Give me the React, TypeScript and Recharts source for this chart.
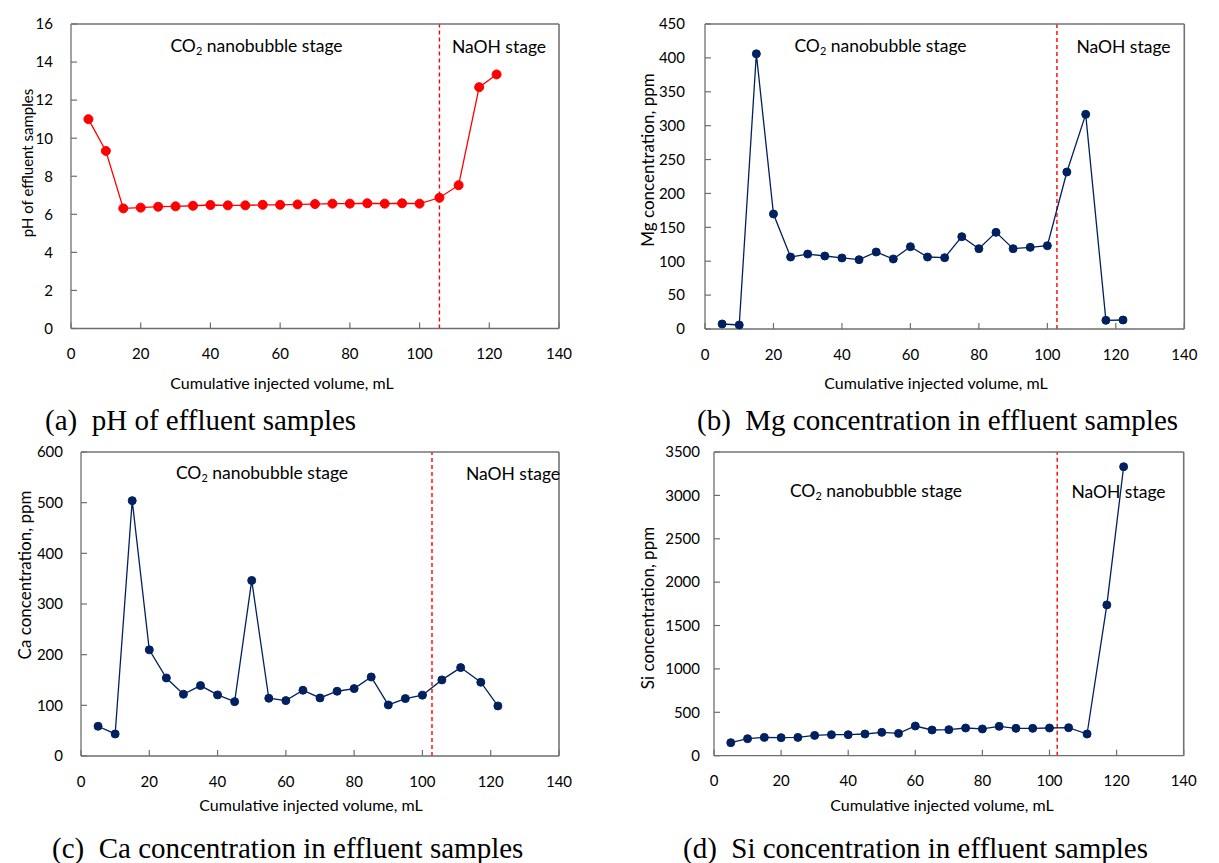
import React from "react";
import { LineChart, Line, XAxis, YAxis, ReferenceLine } from "recharts";

// cumulative injected volume of each effluent sample, mL
const volume = [
  5, 10, 15, 20, 25, 30, 35, 40, 45, 50, 55, 60, 65, 70, 75, 80, 85, 90, 95,
  100, 105.7, 111.2, 117.1, 122.1,
];

const phValues = [
  11.0, 9.33, 6.31, 6.35, 6.4, 6.42, 6.45, 6.49, 6.47, 6.47, 6.5, 6.5, 6.52,
  6.54, 6.56, 6.56, 6.58, 6.56, 6.58, 6.56, 6.87, 7.53, 12.68, 13.35,
];
const mgValues = [
  7.4, 5.9, 406, 169.7, 106.2, 110.6, 107.7, 104.8, 102.3, 113.6, 103.3, 121.4,
  106.2, 105.2, 136.2, 118.5, 142.6, 118.5, 120.5, 122.9, 231.6, 316.7, 12.8,
  13.3,
];
const caValues = [
  58.7, 43.5, 504, 209.5, 154, 121.9, 139, 120.6, 107.3, 346.5, 114, 109.3,
  129.8, 114.6, 127.8, 133, 156, 100.8, 113.3, 120, 150.2, 174.5, 145.6, 98.8,
];
const siValues = [
  150, 196, 211, 208, 211, 234, 242, 242, 250, 269, 257, 342, 296, 300, 319,
  308, 338, 315, 315, 319, 323, 250, 1738, 3330,
];

const volumeTicks = [0, 20, 40, 60, 80, 100, 120, 140];
const phTicks = [0, 2, 4, 6, 8, 10, 12, 14, 16];
const mgTicks = [0, 50, 100, 150, 200, 250, 300, 350, 400, 450];
const caTicks = [0, 100, 200, 300, 400, 500, 600];
const siTicks = [0, 500, 1000, 1500, 2000, 2500, 3000, 3500];

const RED = "#ff0000";
const NAVY = "#002060";
const SANS = "Lato, 'Open Sans', sans-serif";
const SERIF = "'Liberation Serif', 'Times New Roman', serif";
const AXIS = "#6e6e6e";
const FRAME = "#737373";

type Box = { l: number; t: number; r: number; b: number };

const Y_W = 60;
const X_H = 50;
const PAD = 10;
const RIGHT = 40;

function Panel(props: {
  box: Box;
  values: number[];
  yTicks: number[];
  color: string;
  dotR: number;
  boundary: number;
  labelGap: number;
}) {
  const { box, values, yTicks, color, dotR, boundary, labelGap } = props;
  const data = volume.map((x, i) => ({ x, y: values[i] }));
  const yMax = yTicks[yTicks.length - 1];
  const xMax = volumeTicks[volumeTicks.length - 1];
  const width = box.r - box.l + Y_W + RIGHT;
  const height = box.b - box.t + PAD + X_H;
  const plotW = box.r - box.l;
  const plotH = box.b - box.t;
  const tickStyle = { fill: "#000", fontSize: 15, fontFamily: SANS };
  return (
    <div
      style={{
        position: "absolute",
        left: box.l - Y_W,
        top: box.t - PAD,
        width,
        height,
      }}
    >
      <LineChart
        width={width}
        height={height}
        data={data}
        margin={{ top: PAD, right: RIGHT, left: 0, bottom: 0 }}
      >
        <XAxis
          type="number"
          dataKey="x"
          domain={[0, xMax]}
          ticks={volumeTicks}
          interval={0}
          height={X_H}
          axisLine={{ stroke: AXIS, strokeWidth: 1.3 }}
          tickLine={{ stroke: AXIS, strokeWidth: 1.2 }}
          tickSize={-6}
          tickMargin={26}
          tick={tickStyle}
        />
        <YAxis
          type="number"
          domain={[0, yMax]}
          ticks={yTicks}
          interval={0}
          width={Y_W}
          axisLine={{ stroke: AXIS, strokeWidth: 1.3 }}
          tickLine={{ stroke: AXIS, strokeWidth: 1.2 }}
          tickSize={-6}
          tickMargin={labelGap + 6}
          tick={tickStyle}
        />
        <ReferenceLine
          x={boundary}
          stroke={RED}
          strokeWidth={1.4}
          strokeDasharray="4 3"
        />
        <Line
          type="linear"
          dataKey="y"
          stroke={color}
          strokeWidth={1.3}
          dot={{ r: dotR, fill: color, stroke: color, strokeWidth: 1 }}
          isAnimationActive={false}
        />
      </LineChart>
      {/* plot-area frame, top and right edges */}
      <svg
        width={width}
        height={height}
        style={{
          position: "absolute",
          left: 0,
          top: 0,
          pointerEvents: "none",
          zIndex: 2,
        }}
      >
        <line
          x1={Y_W}
          y1={PAD}
          x2={Y_W + plotW}
          y2={PAD}
          stroke={FRAME}
          strokeWidth={1.6}
        />
        <line
          x1={Y_W + plotW}
          y1={PAD}
          x2={Y_W + plotW}
          y2={PAD + plotH}
          stroke={FRAME}
          strokeWidth={1.6}
        />
      </svg>
    </div>
  );
}

function Txt(props: {
  x: number;
  y: number;
  size: number;
  font?: string;
  rotate?: boolean;
  anchor?: "start" | "middle";
  children: React.ReactNode;
}) {
  const { x, y, size, font = SANS, rotate, anchor = "middle", children } = props;
  const tx = anchor === "middle" ? "-50%" : "0";
  return (
    <div
      style={{
        position: "absolute",
        left: x,
        top: y,
        fontSize: size,
        fontFamily: font,
        whiteSpace: "pre",
        lineHeight: 1,
        color: "#000",
        zIndex: 3,
        transform: `translate(${tx}, -50%)${rotate ? " rotate(-90deg)" : ""}`,
        transformOrigin: "center",
      }}
    >
      {children}
    </div>
  );
}

const CO2 = (
  <>
    CO<sub style={{ fontSize: "0.62em", verticalAlign: "-0.3em" }}>2</sub>{" "}
    nanobubble stage
  </>
);

export default function App() {
  return (
    <div
      style={{
        position: "absolute",
        left: 0,
        top: 0,
        width: 1219,
        height: 863,
        background: "#fff",
        overflow: "hidden",
      }}
    >
      <Panel
        box={{ l: 71, t: 24, r: 559, b: 328.5 }}
        values={phValues}
        yTicks={phTicks}
        color={RED}
        dotR={4.5}
        boundary={105.7}
        labelGap={18}
      />
      <Panel
        box={{ l: 704.7, t: 24, r: 1184, b: 329 }}
        values={mgValues}
        yTicks={mgTicks}
        color={NAVY}
        dotR={4}
        boundary={102.8}
        labelGap={20}
      />
      <Panel
        box={{ l: 81, t: 452, r: 559, b: 756 }}
        values={caValues}
        yTicks={caTicks}
        color={NAVY}
        dotR={4}
        boundary={102.8}
        labelGap={18}
      />
      <Panel
        box={{ l: 714.3, t: 452.3, r: 1184, b: 756 }}
        values={siValues}
        yTicks={siTicks}
        color={NAVY}
        dotR={4}
        boundary={102.3}
        labelGap={14}
      />

      {/* stage annotations */}
      <Txt x={256.5} y={47} size={17.5}>{CO2}</Txt>
      <Txt x={499} y={47} size={17.5}>NaOH stage</Txt>
      <Txt x={880.5} y={47} size={17.5}>{CO2}</Txt>
      <Txt x={1123.5} y={47} size={17.5}>NaOH stage</Txt>
      <Txt x={262} y={474} size={17.5}>{CO2}</Txt>
      <Txt x={513} y={474} size={17.5}>NaOH stage</Txt>
      <Txt x={876} y={492} size={17.5}>{CO2}</Txt>
      <Txt x={1118.5} y={492} size={17.5}>NaOH stage</Txt>

      {/* axis titles */}
      <Txt x={282} y={383} size={16}>Cumulative injected volume, mL</Txt>
      <Txt x={936} y={383} size={16}>Cumulative injected volume, mL</Txt>
      <Txt x={311} y={805} size={16}>Cumulative injected volume, mL</Txt>
      <Txt x={942} y={805} size={16}>Cumulative injected volume, mL</Txt>
      <Txt x={27} y={163} size={15} rotate>pH of effluent samples</Txt>
      <Txt x={647} y={160} size={17} rotate>Mg concentration, ppm</Txt>
      <Txt x={24} y={575} size={17} rotate>Ca concentration, ppm</Txt>
      <Txt x={647} y={608} size={17} rotate>Si concentration, ppm</Txt>

      {/* captions */}
      <Txt x={45} y={420} size={29} font={SERIF} anchor="start">
        {"(a)  pH of effluent samples"}
      </Txt>
      <Txt x={697} y={420} size={29} font={SERIF} anchor="start">
        {"(b)  Mg concentration in effluent samples"}
      </Txt>
      <Txt x={52} y={848} size={29} font={SERIF} anchor="start">
        {"(c)  Ca concentration in effluent samples"}
      </Txt>
      <Txt x={683} y={848} size={29} font={SERIF} anchor="start">
        {"(d)  Si concentration in effluent samples"}
      </Txt>
    </div>
  );
}
